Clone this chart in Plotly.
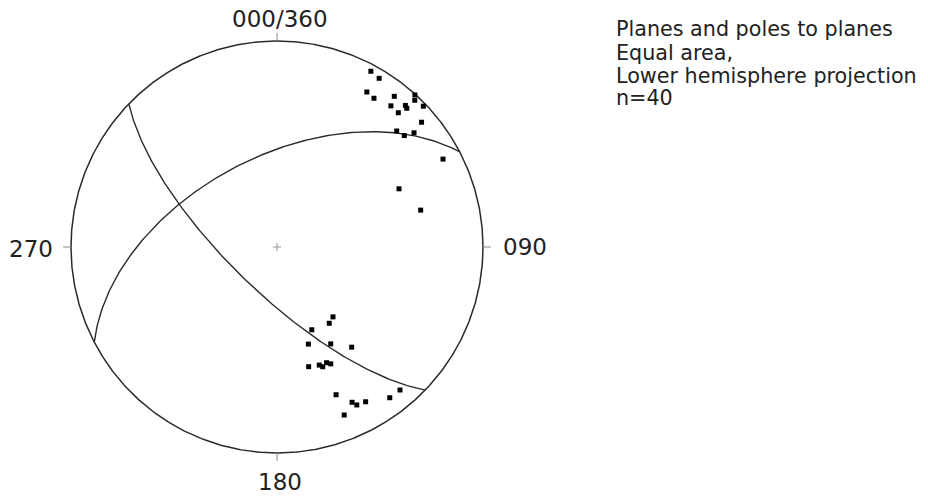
import numpy as np
import plotly.graph_objects as go

# ---- data ----
# poles to planes: trend (deg), plunge (deg)
pole_trend = [28.1, 31.2, 30.1, 33.1, 37.9, 42.2, 43.2, 38.9, 42.2, 43.1,
              42.1, 46.1, 49.2, 45.9, 50.2, 48.8, 62.1, 64.5, 75.6,
              141.3, 145.6, 157.2, 162.1, 151.0, 143.3, 165.2, 160.3, 159.1, 156.8,
              155.3, 158.2, 154.2, 153.2, 150.2, 158.2, 143.2, 139.3]
pole_plunge = [3.7, 4.8, 14.1, 14.9, 8.1, 0.4, 2.6, 13.0, 8.0, 8.6,
               13.2, 1.6, 8.1, 20.2, 14.5, 19.0, 9.7, 34.7, 28.8,
               54.2, 53.0, 54.1, 49.0, 45.3, 39.2, 39.7, 39.0, 37.8, 38.8,
               37.6, 23.8, 17.4, 15.2, 14.5, 13.2, 9.5, 9.3]
# planes: dip direction (deg), dip (deg)
plane_dipdir = [224.0, 332.5]
plane_dip = [72.0, 54.0]

dir_labels = ["000/360", "090", "180", "270"]
info_lines = ["Planes and poles to planes", "Equal area,",
              "Lower hemisphere projection", "n=40"]

FONT = "DejaVu Sans"
INK = "#222222"
LINE = "#2a2a2a"


def project(trend, plunge):
    t = np.radians(np.asarray(trend, float))
    p = np.radians(np.asarray(plunge, float))
    r = np.sqrt(2.0) * np.sin((np.pi / 2 - p) / 2.0)
    return r * np.sin(t), r * np.cos(t)


def great_circle(dipdir, dip, n=181):
    D = np.radians(dipdir)
    d = np.radians(dip)
    s = np.array([np.sin(D - np.pi / 2), np.cos(D - np.pi / 2), 0.0])
    dv = np.array([np.sin(D) * np.cos(d), np.cos(D) * np.cos(d), np.sin(d)])
    a = np.linspace(0, np.pi, n)
    v = np.outer(np.cos(a), s) + np.outer(np.sin(a), dv)
    tr = np.degrees(np.arctan2(v[:, 0], v[:, 1]))
    pl = np.degrees(np.arcsin(np.clip(v[:, 2], -1, 1)))
    return project(tr, pl)


fig = go.Figure()

# primitive circle
th = np.linspace(0, 2 * np.pi, 721)
fig.add_trace(go.Scatter(x=np.cos(th), y=np.sin(th), mode="lines",
                         line=dict(color=LINE, width=1.5), hoverinfo="skip"))

# ticks at N, E, S, W
tick_len = 0.038
for ang in [0, 90, 180, 270]:
    a = np.radians(ang)
    fig.add_trace(go.Scatter(x=[np.sin(a), (1 + tick_len) * np.sin(a)],
                             y=[np.cos(a), (1 + tick_len) * np.cos(a)],
                             mode="lines", line=dict(color="#888888", width=1),
                             hoverinfo="skip"))

# centre cross
c = 0.02
fig.add_trace(go.Scatter(x=[-c, c, None, 0, 0], y=[0, 0, None, -c, c], mode="lines",
                         line=dict(color="#999999", width=1), hoverinfo="skip"))

# great circles
for dd, dp in zip(plane_dipdir, plane_dip):
    gx, gy = great_circle(dd, dp)
    fig.add_trace(go.Scatter(x=gx, y=gy, mode="lines",
                             line=dict(color=LINE, width=1.4), hoverinfo="skip"))

# poles
px, py = project(pole_trend, pole_plunge)
fig.add_trace(go.Scatter(x=px, y=py, mode="markers",
                         marker=dict(symbol="square", size=5, color="black",
                                     line=dict(width=0))))

# direction labels
label_pos = {"000/360": (0.015, 1.108), "090": (1.205, 0.0),
             "180": (0.013, -1.141), "270": (-1.193, -0.01)}
for lab in dir_labels:
    x, y = label_pos[lab]
    fig.add_annotation(x=x, y=y, xref="x", yref="y", text=lab, showarrow=False,
                       xanchor="center", yanchor="middle",
                       font=dict(family=FONT, size=23, color=INK))

# info text, one annotation per line
W, H = 928, 497
line_mid_px = [29.4, 52.7, 76.0, 98.4]
for txt, ym in zip(info_lines, line_mid_px):
    fig.add_annotation(x=614 / W, y=1 - ym / H, xref="paper", yref="paper",
                       text=txt, showarrow=False, xanchor="left", yanchor="middle",
                       font=dict(family=FONT, size=20.7, color=INK))

cx, cy, R = 277.0, 247.0, 206.0
fig.update_layout(
    width=W, height=H, margin=dict(l=0, r=0, t=0, b=0),
    paper_bgcolor="white", plot_bgcolor="white", showlegend=False,
    hovermode=False,
    xaxis=dict(range=[-cx / R, (W - cx) / R], visible=False, fixedrange=True),
    yaxis=dict(range=[-(H - cy) / R, cy / R], visible=False, fixedrange=True),
)

fig.write_html("out.html", config={"displayModeBar": False, "staticPlot": True},
               post_script="document.body.style.margin='0';document.body.style.overflow='hidden';")
